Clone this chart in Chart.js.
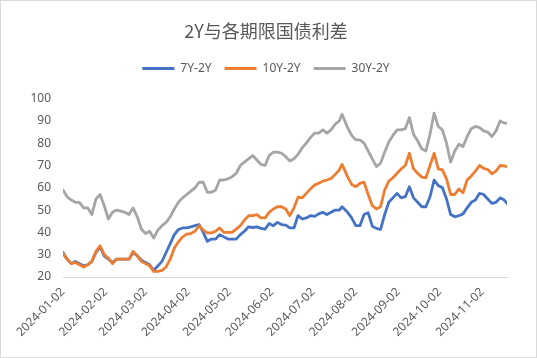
<!DOCTYPE html>
<html>
<head>
<meta charset="utf-8">
<script src="https://cdn.jsdelivr.net/npm/chart.js@4.4.1/dist/chart.umd.min.js"></script>
<style>
  html, body { margin: 0; padding: 0; background: #fff; }
</style>
</head>
<body>
<canvas id="spreadChart" width="537" height="358"></canvas>
<script>
const year = 2024;

// sample dates (MM-DD), roughly every third day
const dates = [
  '01-02','01-05','01-08','01-11','01-14','01-17','01-20','01-23','01-26','01-29',
  '02-01','02-04','02-07','02-10','02-13','02-16','02-19','02-22','02-25','02-28',
  '03-02','03-05','03-08','03-11','03-14','03-17','03-20','03-23','03-26','03-29',
  '04-01','04-04','04-07','04-10','04-13','04-16','04-19','04-22','04-25','04-28',
  '05-01','05-04','05-07','05-10','05-13','05-16','05-19','05-22','05-25','05-28',
  '05-31','06-03','06-06','06-09','06-12','06-15','06-18','06-21','06-24','06-27',
  '06-30','07-03','07-06','07-09','07-12','07-15','07-18','07-21','07-23','07-27',
  '07-30','08-02','08-05','08-08','08-11','08-14','08-17','08-20','08-23','08-26',
  '08-29','09-01','09-04','09-07','09-10','09-13','09-16','09-19','09-22','09-25',
  '09-28','10-01','10-04','10-07','10-10','10-13','10-16','10-19','10-22','10-25',
  '10-28','10-31','11-03','11-06','11-09','11-12','11-15','11-18','11-20'
];

const spread7y = [
  31, 28, 26, 27, 26, 25, 25.5, 27, 31, 33.5,
  29.5, 28, 26.5, 28, 28, 28, 28, 31, 29.5, 27.5,
  26.5, 25.5, 23, 25, 27, 31, 35, 39, 41.3, 42,
  42, 42.5, 43, 43.5, 40, 36, 37, 37, 39, 38,
  37, 37, 37, 39, 40.5, 42.5, 42.2, 42.5, 41.8, 41.5,
  44, 43, 44.5, 43.5, 43.3, 42, 42, 47.5, 46, 46.5,
  47.5, 47.2, 48.3, 49, 48, 49, 50, 50, 51.5, 49,
  46.5, 43, 43, 48, 48.8, 42.8, 41.8, 41.3, 48, 53.5,
  55.5, 57.5, 55.5, 56, 60.5, 55.5, 53.5, 51.5, 51.5, 56,
  63.5, 61, 60, 55, 48, 47, 47.5, 48.3, 51, 53.5,
  54.5, 57.5, 57, 55, 53, 53.5, 55.5, 54.5, 53
];

const spread10y = [
  30.5, 28, 26, 26.5, 25.5, 24.5, 25.5, 27, 31.5, 34,
  30, 28.5, 26, 28, 28, 28, 28, 31.5, 29.5, 27,
  26, 25, 22.5, 22.5, 23, 24.5, 28, 33, 35.8, 38,
  39.2, 39.5, 40.5, 43, 41, 39.8, 39.8, 40.5, 42, 40,
  40, 40, 41.5, 43, 45.5, 47.5, 47.5, 48, 46.5, 46.5,
  49, 50.5, 51.5, 51.5, 50.5, 47.5, 51, 55.8, 55.5, 57.5,
  59.5, 61.2, 62, 63, 63.5, 64.2, 66, 68, 70.5, 65,
  61.5, 60.5, 62, 62.5, 57, 52, 50.5, 51.5, 59, 63,
  64.5, 66.5, 68.5, 70, 75.5, 68.5, 66.5, 64.8, 64.5, 70,
  75.5, 68.5, 68, 64, 57, 57, 59.5, 57.8, 63.5, 65.3,
  67.5, 70, 68.7, 68.2, 66.3, 67.5, 70, 69.8, 69.5
];

const spread30y = [
  59, 56, 54.5, 53.5, 53.5, 51, 51, 48, 55, 57,
  52, 46, 49, 50, 49.5, 49, 48, 51, 47, 41.5,
  39.5, 40.5, 37.5, 41, 43, 44.5, 47, 50.5, 53.5, 55.5,
  57, 58.5, 60, 62.5, 62.5, 58, 58, 59, 63.5, 63.5,
  64, 65, 66.5, 70, 71.5, 73, 74.5, 72.5, 70.5, 70,
  74.5, 76, 76, 75.5, 74, 72, 73, 75, 78, 80,
  82.5, 84.5, 84.5, 86, 84.5, 86, 88.5, 90, 93, 87,
  83.5, 81.5, 81.5, 80, 76.5, 73, 69.5, 71, 76, 80.5,
  83.5, 86, 86, 86.5, 91.5, 84, 81, 77.5, 76.5, 84,
  93.5, 87.5, 86, 80, 71.5, 76.5, 79.5, 78.5, 83, 86.5,
  87.5, 87, 85.5, 85, 83, 85.5, 90, 89, 89
];

const monthTicks = ['01-02','02-02','03-02','04-02','05-02','06-02','07-02','08-02','09-02','10-02','11-02'];

const seriesNames = ['7Y-2Y', '10Y-2Y', '30Y-2Y'];
const seriesColors = ['#4472C4', '#ED7D31', '#A5A5A5'];

const DAY = 86400000;
const start = Date.UTC(year, 0, 2);
const dayOf = (md) => (Date.UTC(year, +md.slice(0, 2) - 1, +md.slice(3, 5)) - start) / DAY;
const labelOf = (d) => new Date(start + Math.round(d) * DAY).toISOString().slice(0, 10);

const textColor = '#595959';
const font = { family: "'Noto Sans', 'Liberation Sans', sans-serif", size: 12 };

// white background and thin frame like the spreadsheet chart
const frame = {
  id: 'frame',
  beforeDraw(chart) {
    const c = chart.ctx;
    c.save();
    c.fillStyle = '#fff';
    c.fillRect(0, 0, chart.width, chart.height);
    c.strokeStyle = '#d9d9d9';
    c.lineWidth = 1;
    c.strokeRect(0.5, 0.5, chart.width - 1, chart.height - 1);
    c.restore();
  }
};

// extra room between legend and plot
const legendGap = {
  id: 'legendGap',
  beforeInit(chart) {
    const fit = chart.legend.fit;
    chart.legend.fit = function () {
      fit.bind(chart.legend)();
      this.height += 14;
    };
  }
};

const makeSet = (i, values, order) => ({
  label: seriesNames[i],
  data: dates.map((d, k) => ({ x: dayOf(d), y: values[k] })),
  borderColor: seriesColors[i],
  backgroundColor: seriesColors[i],
  borderWidth: 2.8,
  borderJoinStyle: 'round',
  borderCapStyle: 'round',
  pointRadius: 0,
  tension: 0,
  order: order,
});

new Chart(document.getElementById('spreadChart').getContext('2d'), {
  type: 'line',
  data: {
    datasets: [
      makeSet(0, spread7y, 3),
      makeSet(1, spread10y, 2),
      makeSet(2, spread30y, 1),
    ],
  },
  options: {
    responsive: false,
    animation: false,
    layout: { padding: { top: 8, right: 5, bottom: 0, left: 0 } },
    plugins: {
      title: {
        display: true,
        text: '2Y与各期限国债利差',
        color: textColor,
        font: { family: "'Noto Sans CJK SC', sans-serif", size: 18, weight: 'normal' },
        padding: { top: 12, bottom: 8 },
      },
      legend: {
        labels: {
          boxWidth: 32,
          boxHeight: 3,
          padding: 13,
          color: textColor,
          font: font,
          sort: (a, b) => a.datasetIndex - b.datasetIndex,
          generateLabels(chart) {
            const items = Chart.defaults.plugins.legend.labels.generateLabels(chart);
            items.forEach(it => { it.lineWidth = 0; it.fillStyle = it.strokeStyle; });
            return items;
          },
        },
      },
      tooltip: { enabled: false },
    },
    scales: {
      x: {
        type: 'linear',
        min: 0,
        max: dayOf(dates[dates.length - 1]),
        grid: { display: false, drawTicks: false },
        border: { display: true, color: '#d9d9d9', width: 1 },
        afterBuildTicks: (scale) => {
          scale.ticks = monthTicks.map(m => ({ value: dayOf(m) }));
        },
        afterFit: (scale) => { scale.height = 81; },
        ticks: {
          autoSkip: false,
          maxRotation: 45,
          minRotation: 45,
          padding: 8,
          color: textColor,
          font: font,
          callback: (v) => labelOf(v),
        },
      },
      y: {
        min: 20,
        max: 100,
        grid: { display: false, drawTicks: false },
        border: { display: false },
        afterFit: (scale) => { scale.width = 63; },
        ticks: { stepSize: 10, padding: 12, color: textColor, font: font },
      },
      yRight: {
        position: 'right',
        grid: { display: false, drawTicks: false },
        border: { display: false },
        ticks: { display: false },
        afterFit: (scale) => { scale.width = 25; },
      },
    },
  },
  plugins: [frame, legendGap],
});
</script>
</body>
</html>
